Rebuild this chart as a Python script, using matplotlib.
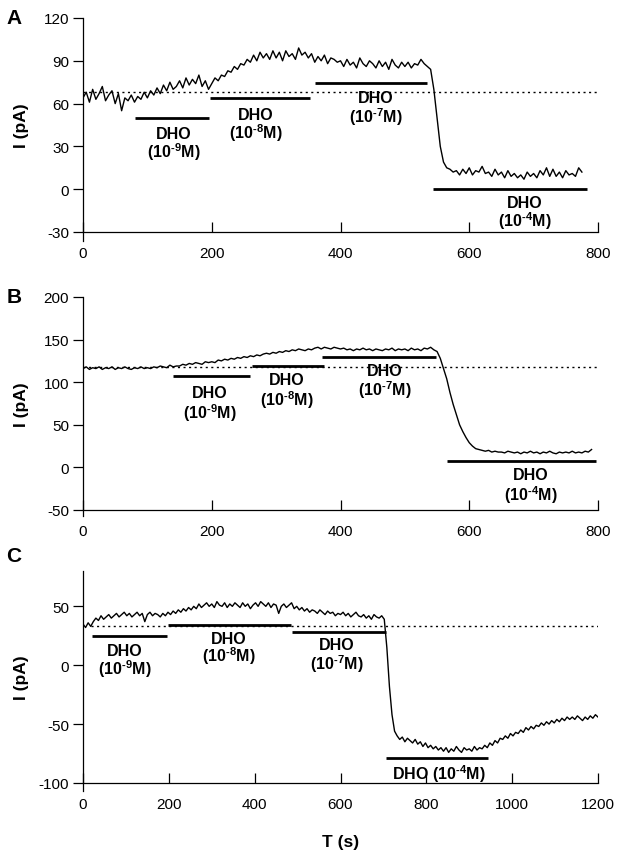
import numpy as np
import matplotlib
matplotlib.use('Agg')
import matplotlib.pyplot as plt

plt.rcParams['font.family'] = ['Liberation Sans', 'DejaVu Sans']
plt.rcParams['axes.unicode_minus'] = False
plt.rcParams['mathtext.fontset'] = 'custom'
plt.rcParams['mathtext.rm'] = 'Liberation Sans:bold'
plt.rcParams['mathtext.it'] = 'Liberation Sans:bold'
plt.rcParams['mathtext.bf'] = 'Liberation Sans:bold'

# ---- panel A: current trace, sampled every 5 s ----
tA = np.arange(0, 780, 5)
iA = [64, 68, 61, 70, 63, 67, 72, 62, 66, 69, 60, 67,
      55, 64, 62, 66, 61, 65, 63, 68,
      64, 69, 66, 71, 67, 73, 69, 75, 70, 72,
      76, 71, 78, 73, 77, 74, 80, 72, 76, 70,
      74, 78, 76, 80, 79, 83, 82, 86, 84, 88,
      87, 91, 89, 94, 90, 96, 92, 95, 91, 97,
      92, 96, 90, 97, 93, 95, 91, 99, 94, 96,
      92, 95, 89, 93, 90, 94, 88, 92, 91, 89,
      90, 86, 91, 87, 89, 85, 92, 88, 86, 90,
      88, 85, 90, 86, 89, 84, 91, 87, 85, 89,
      86, 89, 85, 88, 87, 91, 88, 86,
      84, 70, 50, 30, 19, 15, 14, 12,
      13, 10, 14, 11, 15, 10, 13, 12, 16, 11,
      12, 9, 14, 10, 12, 8, 13, 9, 11, 8,
      10, 7, 12, 9, 11, 8, 13, 10, 15, 9,
      14, 9, 12, 8, 13, 10, 11, 9, 15, 12]
baseA = 68
barsA = [(80, 195, 50), (197, 353, 64), (361, 534, 74.5), (544, 783, 0)]

# ---- panel B ----
tB = np.arange(0, 795, 5)
iB = [116, 118, 115, 117, 116, 118, 115, 117, 116, 118,
      115, 117, 116, 118, 116, 115, 117, 116, 118, 116,
      117, 116, 118, 117, 119, 118, 117, 120, 118, 119,
      119, 121, 120, 122, 121, 123, 122, 121, 124, 123,
      124, 123, 126, 125, 127, 126, 128, 127, 129, 128,
      130, 129, 131, 130, 132, 131, 133, 134, 133, 135,
      134, 136, 135, 137, 136, 138, 137, 139, 138, 137,
      139, 138, 140, 141, 139, 141, 140, 139, 141, 140,
      139, 140, 138, 139, 137, 139, 138, 140, 138, 139,
      137, 139, 138, 137, 139, 138, 140, 137, 139, 138,
      139, 137, 140, 138, 139, 137, 140, 139, 141, 138,
      136, 128, 116, 104, 88, 74, 62, 50, 42, 35,
      29, 25, 22, 21, 20, 19, 20, 18, 19, 18,
      18, 17, 19, 18, 17, 18, 16, 18, 17, 19,
      17, 18, 16, 18, 17, 19, 17, 16, 18, 17,
      18, 17, 19, 17, 18, 17, 19, 18, 21]
baseB = 118
barsB = [(140, 260, 107), (262, 374, 119.5), (372, 548, 129), (565, 797, 7)]

# ---- panel C, sampled every 6 s ----
tC = np.arange(0, 1206, 6)
iC = [35, 32, 36, 33, 37, 40, 38, 42, 39, 41,
      43, 40, 42, 44, 41, 43, 45, 42, 44, 41,
      43, 45, 42, 44, 37, 43, 45, 42, 44, 43,
      41, 44, 42, 45, 43, 46, 44, 47, 45, 48,
      46, 49, 47, 50, 48, 52, 49, 51, 53, 50,
      52, 49, 54, 51, 50, 53, 49, 52, 50, 53,
      51, 49, 53, 50, 52, 48, 51, 53, 50, 54,
      52, 50, 53, 49, 52, 51, 44, 50, 52, 49,
      51, 53, 48, 50, 47, 49, 46, 48, 45, 47,
      46, 44, 47, 45, 43, 46, 44, 45, 42, 44,
      43, 45, 42, 44, 41, 43, 45, 42, 41, 43,
      40, 42, 39, 43, 41, 40, 42, 39, 15, -18,
      -42, -56, -60, -63, -61, -65, -62, -64, -66, -63,
      -67, -65, -69, -66, -70, -68, -71, -69, -72, -70,
      -73, -70, -74, -71, -73, -69, -72, -74, -70, -72,
      -71, -73, -69, -72, -70, -71, -68, -70, -66, -68,
      -64, -66, -62, -63, -60, -62, -58, -60, -57, -58,
      -55, -57, -53, -55, -52, -54, -51, -52, -49, -51,
      -48, -50, -47, -49, -46, -48, -45, -47, -44, -46,
      -44, -46, -43, -45, -47, -44, -46, -43, -45, -42,
      -44]
baseC = 33.5
barsC = [(20, 196, 24.5), (198, 484, 34), (486, 705, 28), (707, 943, -79)]

fig = plt.figure(figsize=(6.2, 8.53), dpi=100)
W, H = 620.0, 853.0


def make_axes(top_px, bottom_px):
    return fig.add_axes([83 / W, 1 - bottom_px / H, 515 / W, (bottom_px - top_px) / H])


def style(ax, xlim, ylim, yticks, xticks, ybottom_ext):
    ax.set_xlim(*xlim)
    ax.set_ylim(*ylim)
    ax.set_xticks(xticks)
    ax.set_yticks(yticks)
    for s in ('top', 'right'):
        ax.spines[s].set_visible(False)
    for s in ('left', 'bottom'):
        ax.spines[s].set_linewidth(0.9)
    ax.spines['left'].set_bounds(ybottom_ext, ylim[1])
    ax.tick_params(axis='y', direction='out', length=7, width=0.9, pad=3, labelsize=11)
    ax.tick_params(axis='x', direction='in', length=7, width=0.9, pad=10, labelsize=11)
    ax.set_ylabel('I (pA)', fontsize=12.5, fontweight='bold')
    ax.yaxis.set_label_coords(-0.105, 0.5)
    ax.patch.set_visible(False)


def draw(ax, t, i, base, bars, xmax, x0=0):
    ax.plot(t, i, color='black', lw=1.0)
    ax.plot([x0, xmax], [base, base], color='black', lw=1.0, ls=(0, (1.5, 2.5)))
    for a, b, y in bars:
        ax.plot([a, b], [y, y], color='black', lw=2.0, solid_capstyle='butt')


lab = dict(ha='center', va='center', fontsize=11.5, fontweight='bold')


def conc(e):
    return r'(10$^{\text{%s}}$M)' % e


# panel A
axA = make_axes(19, 233)
draw(axA, tA, iA, baseA, barsA, 800)
style(axA, (0, 800), (-30, 120), [-30, 0, 30, 60, 90, 120], [0, 200, 400, 600, 800], -36)
for x, y1, y2, e in [(141, 39, 26.5, '-9'), (269, 52.4, 40, '-8'), (455, 64, 51, '-7'), (686, -9.5, -22, '-4')]:
    axA.text(x, y1, 'DHO', **lab)
    axA.text(x, y2, conc(e), **lab)

# panel B
axB = make_axes(298, 511)
draw(axB, tB, iB, baseB, barsB, 800)
style(axB, (0, 800), (-50, 200), [-50, 0, 50, 100, 150, 200], [0, 200, 400, 600, 800], -57)
for x, y1, y2, e in [(197, 87.5, 65, '-9'), (317, 102.6, 80.5, '-8'), (468, 114, 92, '-7'), (695, -8, -31.7, '-4')]:
    axB.text(x, y1, 'DHO', **lab)
    axB.text(x, y2, conc(e), **lab)

# panel C
axC = make_axes(572, 784)
draw(axC, tC, iC, baseC, barsC, 1200, x0=18)
style(axC, (0, 1200), (-100, 80), [-100, -50, 0, 50], [0, 200, 400, 600, 800, 1000, 1200], -107)
for x, y1, y2, e in [(97, 12.6, -2.3, '-9'), (339, 23, 8.3, '-8'), (592, 17.3, 1.8, '-7')]:
    axC.text(x, y1, 'DHO', **lab)
    axC.text(x, y2, conc(e), **lab)
axC.text(829, -91.5, 'DHO ' + conc('-4'), **lab)
axC.set_xlabel('T (s)', fontsize=12.5, fontweight='bold', labelpad=17)

# panel letters
for letter, ypx in [('A', 19), ('B', 298), ('C', 557)]:
    fig.text(14 / W, 1 - ypx / H, letter, fontsize=15, fontweight='bold', ha='center', va='center')

fig.savefig('out.png', dpi=100)
